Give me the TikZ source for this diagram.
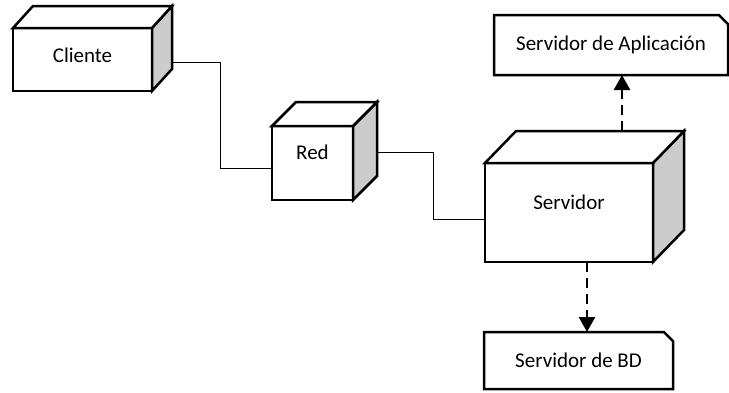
\documentclass[tikz,border=0pt]{standalone}
\usepackage{fontspec}
\setmainfont{Carlito}
\usetikzlibrary{arrows.meta,shapes.misc}

% top and side faces of a node box
\newcommand{\cubo}[3]{%
  \draw[caja,fill=gray!40] (#1.north east) -- ++(#2,#3) coordinate (#1-tr)
     -- ([shift={(#2,#3)}]#1.south east) -- (#1.south east) -- cycle;
  \draw[caja,fill=white] (#1.north west) -- ++(#2,#3) coordinate (#1-tl)
     -- (#1-tr) -- (#1.north east) -- cycle;
}

\begin{document}
\begin{tikzpicture}[x=1pt,y=-1pt,
  caja/.style={draw,line width=2.5pt,line join=miter,outer sep=0pt},
  frente/.style={caja,fill=white,inner sep=0pt},
  nota/.style={caja,fill=white,inner sep=0pt,chamfered rectangle,
     chamfered rectangle corners=north east,chamfered rectangle xsep=6pt},
  enlace/.style={line width=1pt},
  dep/.style={line width=2.5pt,dash pattern=on 10pt off 6pt,
     -{Triangle[length=15pt,width=16pt]}},
  font=\fontsize{21}{25}\selectfont]
  \useasboundingbox (0,0) rectangle (729,392);

  \node[frente,minimum width=139pt,minimum height=63pt] (cliente) at (82.5,59.5) {};
  \cubo{cliente}{20}{-22}
  \node (clientetxt) at ([yshift=4]cliente.center) {Cliente};

  \node[frente,minimum width=81pt,minimum height=74pt] (red) at (312.5,163) {};
  \cubo{red}{24}{-24}
  \node (redtxt) at ([yshift=11]red.center) {Red};

  \node[frente,minimum width=168pt,minimum height=99pt] (servidor) at (569,212.5) {};
  \cubo{servidor}{31}{-32}
  \node (servidortxt) at ([yshift=10]servidor.center) {Servidor};

  \node[nota,minimum width=234pt,minimum height=60pt] (aplic) at (611,45) {Servidor de Aplicación};
  \node[nota,minimum width=189pt,minimum height=57pt] (bd) at (578.5,360.5) {Servidor de BD};

  \coordinate (clientesal) at ([shift={(20,2.5)}]cliente.east);
  \coordinate (redsal) at ([shift={(24,-11)}]red.east);
  \draw[enlace] (clientesal) -- ++(48,0) |- ([yshift=-5]red.west);
  \draw[enlace] (redsal) -- ++(56,0) |- ([yshift=-6.5]servidor.west);

  \coordinate (servarr) at ([shift={(53,-32)}]servidor.north);
  \coordinate (servbaj) at ([xshift=18]servidor.south);
  \draw[dep] (servarr) -- (servarr |- aplic.south);
  \draw[dep] (servbaj) -- (servbaj |- bd.north);
\end{tikzpicture}
\end{document}
